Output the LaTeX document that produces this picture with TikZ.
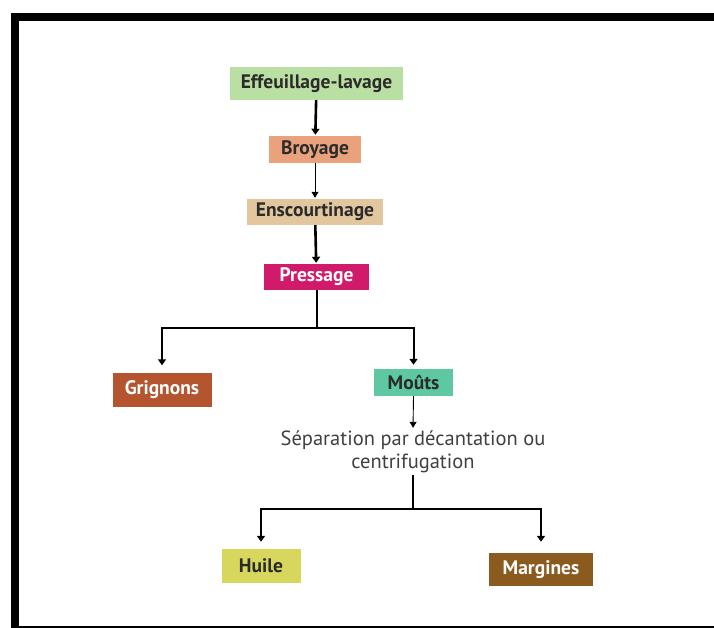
\documentclass[tikz,border=0pt]{standalone}
\usepackage{fontspec}
\setmainfont{PT Sans}
\usetikzlibrary{arrows.meta}
\definecolor{cEff}{HTML}{BADFA2}
\definecolor{cBroy}{HTML}{E9A27C}
\definecolor{cEnsc}{HTML}{E2C79E}
\definecolor{cPress}{HTML}{D21A6B}
\definecolor{cGrig}{HTML}{B4552F}
\definecolor{cMouts}{HTML}{5DC8A2}
\definecolor{cHuile}{HTML}{D6D75C}
\definecolor{cMarg}{HTML}{8A5A1F}
\definecolor{cTxt}{HTML}{2B2B2B}
\begin{document}
\begin{tikzpicture}[x=1pt,y=-1pt,
  box/.style={inner sep=0pt, font=\bfseries\fontsize{19.5}{21}\selectfont, text=cTxt},
  lightbox/.style={box, text=white},
  thick arrow/.style={line width=2.6pt, -{Triangle[length=6pt,width=8pt]}},
  thin arrow/.style={line width=0.9pt, -{Triangle[length=6pt,width=7pt]}},
  split arrow/.style={line width=2pt, -{Triangle[length=6pt,width=8pt]}}]
\useasboundingbox (0,0) rectangle (714,628);
% frame
\fill[black] (11,13) rectangle (714,21);
\fill[black] (11,13) rectangle (19,628);
\fill[black] (11,626) rectangle (714,628);
% nodes
\node[box, fill=cEff, minimum width=173pt, minimum height=33pt] (eff) at (316.5,83.5) {Effeuillage-lavage};
\node[box, fill=cBroy, minimum width=92pt, minimum height=27pt] (broy) at (315,149.5) {Broyage};
\node[box, fill=cEnsc, minimum width=136pt, minimum height=26pt] (ensc) at (315,212) {Enscourtinage};
\node[lightbox, fill=cPress, minimum width=105pt, minimum height=26pt] (press) at (316.5,277) {Pressage};
\node[lightbox, fill=cGrig, minimum width=99pt, minimum height=34pt] (grig) at (162,389.5) {Grignons};
\node[box, fill=cMouts, minimum width=79pt, minimum height=27pt] (mouts) at (413.5,382.5) {Moûts};
\node[align=center, text=cTxt!90, font=\fontsize{20.5}{23}\selectfont, inner sep=0pt, minimum height=46pt] (sep) at (413,452) {Séparation par décantation ou\\centrifugation};
\node[box, fill=cHuile, minimum width=79pt, minimum height=34pt] (huile) at (261,566) {Huile};
\node[lightbox, fill=cMarg, minimum width=104pt, minimum height=33pt] (marg) at (541,569.5) {Margines};
\coordinate (j1) at (316.5,328);
\coordinate (j2) at (413,509);
% connectors
\draw[thick arrow, shorten >=1pt] (eff) -- (broy);
\draw[thin arrow, shorten >=1pt] (broy) -- (ensc);
\draw[thick arrow, shorten >=1pt] (ensc) -- (press);
\draw[line width=2pt] (press.south) -- (j1);
\draw[split arrow, shorten >=7pt] (j1) -| (grig.north);
\draw[split arrow, shorten >=4pt] (j1) -| (mouts.north);
\draw[thin arrow, shorten >=1pt] (mouts.south) -- (sep.north);
\draw[line width=2pt] (sep.south) -- (j2);
\draw[split arrow, shorten >=7pt] (j2) -| (huile.north);
\draw[split arrow, shorten >=11pt] (j2) -| (marg.north);
\end{tikzpicture}
\end{document}
